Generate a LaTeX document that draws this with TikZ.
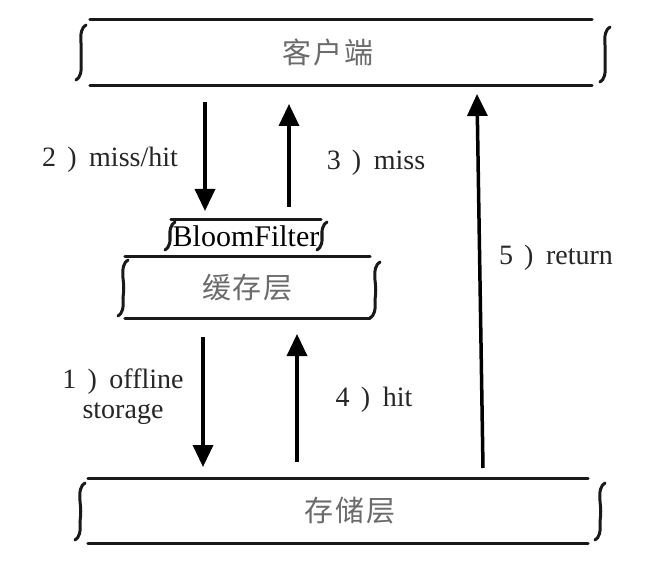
\documentclass[tikz,border=0pt]{standalone}
\usepackage{fontspec}
\setmainfont{Liberation Serif}
\newfontfamily\cjk{Noto Sans CJK SC}
\usetikzlibrary{arrows.meta}
\newcommand\lab[2]{#1\hspace{0.4em})\hspace{0.45em}#2}
\newcommand\cjkspaced[3]{#1\hspace{2pt}#2\hspace{2pt}#3}
\newcommand\squig[3]{%
  \draw[sq] ({#1+5},#2) .. controls ({#1+1},{#2+2}) and ({#1-1},{#2+8}) .. (#1,{#2+18})
    .. controls ({#1+1},{(#2+#3)/2}) .. (#1,{#3-18}) .. controls ({#1+1},{#3-8}) and ({#1-1},{#3-2}) .. ({#1-5},#3);}
\begin{document}
\begin{tikzpicture}[x=1pt,y=-1pt,
  box/.style={rectangle,inner sep=0pt,draw=none},
  cn/.style={font=\cjk\fontsize{29}{32}\selectfont,text=black!58},
  ln/.style={line width=3pt,line cap=round,black!90},
  sq/.style={line width=3pt,line cap=round,black!90},
  arr/.style={line width=3.5pt,-{Triangle[length=22pt,width=20pt]},black},
  lbl/.style={font=\fontsize{28}{30}\selectfont,text=black!85,align=center,inner sep=0pt}]
\useasboundingbox (0,0) rectangle (657,567);
\fill[white] (0,0) rectangle (657,567);
% boxes
\node[box,minimum width=502pt,minimum height=65pt,cn] (client) at (341,52.5) {\hspace*{-26pt}\cjkspaced{客}{户}{端}};
\node[box,minimum width=150pt,minimum height=32pt,font=\fontsize{30}{32}\selectfont] (bloom) at (246,236) {BloomFilter};
\node[box,minimum width=245pt,minimum height=61pt,cn] (cache) at (247.5,287.5) {\cjkspaced{缓}{存}{层}};
\node[box,minimum width=500pt,minimum height=64pt,cn] (store) at (338,511) {\hspace*{24pt}\cjkspaced{存}{储}{层}};
\draw[ln] (client.north west) -- (client.north east);
\draw[ln] (client.south west) -- (client.south east);
\draw[ln] (bloom.north west) -- (bloom.north east);
\draw[ln] (cache.north west) -- (cache.north east);
\draw[ln] (cache.south west) -- (cache.south east);
\draw[ln] (store.north west) -- (store.north east);
\draw[ln] (store.south west) -- (store.south east);
\squig{81}{25}{80}
\squig{605}{27}{82}
\squig{170}{222}{250}
\squig{322}{222}{250}
\squig{123}{260}{316}
\squig{375}{262}{318}
\squig{80}{483}{540}
\squig{600}{483}{540}
% arrows
\coordinate (a2s) at (205,102); \coordinate (a2e) at (205,211);
\coordinate (a3s) at (289,207); \coordinate (a3e) at (289,104);
\coordinate (a5s) at (483,468); \coordinate (a5e) at (477,94);
\coordinate (a1s) at (203,337); \coordinate (a1e) at (203,467);
\coordinate (a4s) at (297,462); \coordinate (a4e) at (297,334);
\draw[arr] (a2s) -- (a2e);
\draw[arr] (a3s) -- (a3e);
\draw[arr] (a5s) -- (a5e);
\draw[arr] (a1s) -- (a1e);
\draw[arr] (a4s) -- (a4e);
% labels
\node[lbl] (l2) at (110,160) {\lab{2}{miss/hit}};
\node[lbl] (l3) at (376,163) {\lab{3}{miss}};
\node[lbl] (l5) at (556,258) {\lab{5}{return}};
\node[lbl] (l1) at (123,397) {\lab{1}{offline}\\storage};
\node[lbl] (l4) at (374,400) {\lab{4}{hit}};
\end{tikzpicture}
\end{document}
